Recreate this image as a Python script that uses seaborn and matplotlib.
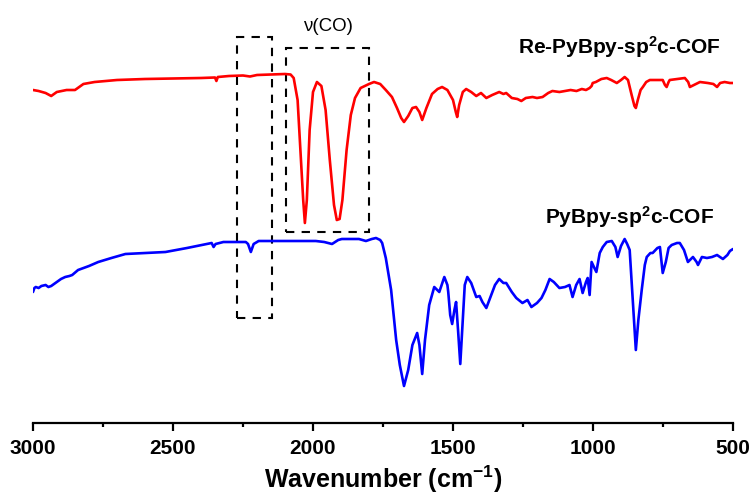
import matplotlib
matplotlib.use("Agg")
import matplotlib.pyplot as plt
from matplotlib.patches import Rectangle
from matplotlib.ticker import MultipleLocator
import seaborn as sns
import pandas as pd

# ---- data (wavenumber, arbitrary offset transmittance) ----
re_wn = [3000, 2980, 2955, 2935, 2915, 2880, 2850, 2820, 2780, 2700, 2600, 2500, 2400, 2350,
         2345, 2340, 2300, 2250, 2225, 2200, 2150, 2100, 2080, 2069, 2055, 2045, 2035, 2029,
         2022, 2012, 2000, 1986, 1970, 1955, 1940, 1925, 1915, 1905, 1895, 1880, 1865, 1850,
         1830, 1800, 1782, 1760, 1740, 1718, 1700, 1685, 1675, 1660, 1645, 1632, 1620, 1610,
         1595, 1575, 1555, 1539, 1520, 1500, 1490, 1485, 1478, 1465, 1453, 1435, 1417, 1400,
         1381, 1360, 1335, 1320, 1310, 1290, 1270, 1256, 1240, 1216, 1200, 1180, 1160, 1145,
         1120, 1100, 1080, 1059, 1040, 1025, 1012, 1005, 1001, 990, 970, 951, 935, 915, 900,
         887, 875, 862, 852, 847, 840, 830, 822, 810, 797, 770, 751, 743, 737, 730, 726, 700,
         672, 660, 654, 640, 618, 590, 570, 557, 546, 530, 511, 500]
re_px = [90, 91, 93, 96, 92, 90, 90, 84, 82, 80, 79, 78.5, 78, 77.5,
         81, 77, 76, 75.5, 76.5, 75, 74.5, 74, 74.5, 78, 100, 150, 200, 223,
         200, 130, 92, 82, 86, 110, 160, 205, 220, 219, 200, 150, 115, 98,
         88, 84, 82, 84, 90, 97, 108, 118, 122, 116, 108, 107, 112, 120,
         108, 94, 89, 87, 90, 100, 112, 117, 105, 92, 89, 92, 96, 93,
         98, 95, 92, 94, 93, 98, 99, 101, 98, 97, 98, 97, 93, 91,
         92, 91, 90, 91, 89, 90, 88, 86, 83, 82, 79, 78, 80, 83, 80,
         77, 80, 95, 106, 108, 100, 90, 87, 82, 80, 80, 80, 85, 87, 82, 80, 79,
         78, 82, 87, 85, 82, 83, 84, 87, 83, 82, 83, 83]

py_wn = [3000, 2995, 2990, 2980, 2970, 2955, 2945, 2935, 2915, 2900, 2885, 2870, 2860, 2839,
         2800, 2767, 2720, 2670, 2600, 2527, 2450, 2380, 2362, 2355, 2348, 2320, 2290, 2240,
         2232, 2222, 2212, 2194, 2100, 1990, 1960, 1932, 1910, 1897, 1860, 1836, 1811, 1790,
         1775, 1760, 1753, 1740, 1721, 1703, 1690, 1675, 1660, 1645, 1628, 1620, 1610, 1600,
         1585, 1567, 1549, 1531, 1520, 1517, 1510, 1503, 1495, 1489, 1482, 1474, 1465, 1458,
         1449, 1435, 1417, 1405, 1395, 1381, 1365, 1350, 1335, 1320, 1310, 1290, 1274, 1252,
         1234, 1220, 1200, 1184, 1170, 1155, 1140, 1120, 1100, 1084, 1073, 1060, 1048, 1037,
         1025, 1019, 1012, 1005, 995, 988, 976, 965, 951, 933, 920, 912, 900, 887, 878, 869,
         860, 847, 838, 826, 815, 808, 795, 787, 770, 761, 751, 740, 730, 719, 700, 690, 675,
         661, 650, 643, 630, 625, 611, 593, 575, 557, 536, 520, 511, 500]
py_px = [292, 288, 287, 288, 286, 285, 287, 286, 282, 279, 277, 276, 275, 270,
         266, 262, 258, 254, 253, 252, 248, 244, 243, 247, 244, 242, 242, 242,
         244, 252, 244, 241, 241, 241, 242, 244, 240, 239, 239, 239, 241, 239,
         238, 240, 243, 258, 290, 340, 365, 386, 370, 345, 333, 345, 374, 340,
         305, 287, 292, 277, 285, 292, 315, 324, 310, 302, 330, 364, 320, 285,
         277, 283, 297, 296, 302, 308, 296, 285, 279, 283, 283, 292, 298, 303,
         300, 307, 303, 298, 290, 279, 282, 288, 287, 285, 297, 285, 279, 293,
         282, 278, 295, 262, 268, 272, 253, 247, 242, 241, 247, 257, 246, 239, 244, 250,
         290, 350, 320, 290, 265, 257, 253, 253, 248, 247, 273, 262, 248, 245, 243, 243, 250,
         262, 259, 257, 262, 265, 257, 258, 257, 255, 259, 255, 251, 249]

series_names = ["Re-PyBpy-sp$^2$c-COF", "PyBpy-sp$^2$c-COF"]
xtick_values = [3000, 2500, 2000, 1500, 1000, 500]

# convert image-row readings to upward-positive arbitrary units
TOP = 423
re_t = [TOP - v for v in re_px]
py_t = [TOP - v for v in py_px]

df = pd.concat([
    pd.DataFrame({"wn": re_wn, "T": re_t, "s": series_names[0]}),
    pd.DataFrame({"wn": py_wn, "T": py_t, "s": series_names[1]}),
])

sns.set_style("white")
plt.rcParams["font.family"] = ["Liberation Sans", "DejaVu Sans"]
plt.rcParams["text.color"] = "black"
plt.rcParams["axes.labelcolor"] = "black"
plt.rcParams["xtick.color"] = "black"
plt.rcParams["lines.solid_joinstyle"] = "round"
plt.rcParams["lines.solid_capstyle"] = "round"
plt.rcParams["mathtext.fontset"] = "custom"
plt.rcParams["mathtext.rm"] = "Liberation Sans:bold"
plt.rcParams["mathtext.it"] = "Liberation Sans:bold"
plt.rcParams["mathtext.bf"] = "Liberation Sans:bold"
plt.rcParams["mathtext.default"] = "rm"

fig = plt.figure(figsize=(7.51, 4.97), dpi=100)
W, H = 751, 497
ax = fig.add_axes([33 / W, (H - 423) / H, 700 / W, 418 / H])

sns.lineplot(data=df, x="wn", y="T", hue="s", palette=["#ff0000", "#0000ff"],
             estimator=None, sort=True, linewidth=1.9, legend=False, ax=ax)

ax.set_xlim(3000, 500)
ax.set_ylim(0, 418)
for sp in ["top", "left", "right"]:
    ax.spines[sp].set_visible(False)
ax.spines["bottom"].set_linewidth(1.6)
ax.spines["bottom"].set_color("black")
ax.set_yticks([])
ax.set_ylabel("")
ax.set_xticks(xtick_values)
ax.set_xticklabels([str(v) for v in xtick_values], fontsize=15, fontweight="bold")
ax.xaxis.set_minor_locator(MultipleLocator(250))
ax.tick_params(axis="x", which="major", direction="out", length=5.5, width=1.6, pad=6, bottom=True)
ax.tick_params(axis="x", which="minor", direction="out", length=3, width=1.6, bottom=True)
ax.set_xlabel("Wavenumber (cm$^{-1}$)", fontsize=18, fontweight="bold", labelpad=4)

# dashed boxes
ax.add_patch(Rectangle((2273, TOP - 318), 2148 - 2273, 318 - 37, fill=False,
                       ls=(0, (4, 3.5)), lw=1.5, ec="black"))
ax.add_patch(Rectangle((2097, TOP - 232), 1800 - 2097, 232 - 48, fill=False,
                       ls=(0, (4, 3.5)), lw=1.5, ec="black"))

ax.text(1945, TOP - 26, "ν(CO)", ha="center", va="center", fontsize=13.5)
ax.text(1268, TOP - 47, series_names[0], ha="left", va="center", fontsize=15, fontweight="bold")
ax.text(1171, TOP - 217, series_names[1], ha="left", va="center", fontsize=15, fontweight="bold")

fig.savefig("out.png", dpi=100)
